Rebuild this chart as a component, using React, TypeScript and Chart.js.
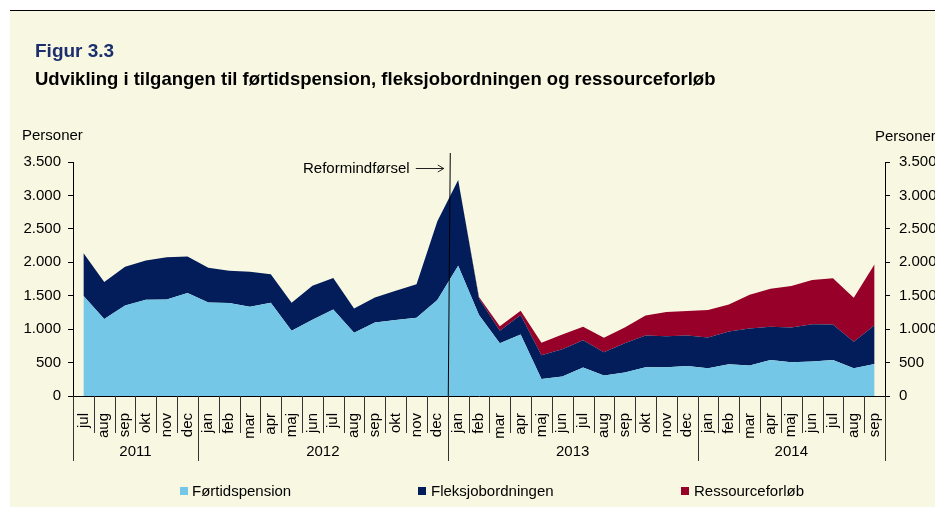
import React, { useEffect, useRef } from 'react';
import { Chart, registerables } from 'chart.js';

Chart.register(...registerables);

const FONT = '"Liberation Sans", Arial, Helvetica, sans-serif';

// Categories
const months = [
  'jul', 'aug', 'sep', 'okt', 'nov', 'dec',
  'jan', 'feb', 'mar', 'apr', 'maj', 'jun', 'jul', 'aug', 'sep', 'okt', 'nov', 'dec',
  'jan', 'feb', 'mar', 'apr', 'maj', 'jun', 'jul', 'aug', 'sep', 'okt', 'nov', 'dec',
  'jan', 'feb', 'mar', 'apr', 'maj', 'jun', 'jul', 'aug', 'sep',
];
const years = ['2011', '2012', '2013', '2014'];
const yearSpans = [6, 12, 12, 9];

// Series (persons per month)
const fortidspension = [
  1500, 1150, 1355, 1440, 1445, 1540,
  1400, 1390, 1335, 1395, 975, 1140, 1295, 945, 1100, 1135, 1170, 1435,
  1950, 1210, 790, 920, 255, 290, 425, 305, 350, 430, 430, 450,
  415, 475, 455, 540, 505, 515, 540, 415, 480,
];
const fleksjob = [
  640, 555, 580, 585, 630, 545,
  520, 485, 525, 425, 420, 510, 470, 365, 375, 440, 500, 1180,
  1280, 250, 185, 290, 355, 410, 410, 350, 440, 475, 465, 455,
  460, 490, 555, 495, 520, 560, 530, 395, 580,
];
const ressourceforloeb: (number | null)[] = [
  null, null, null, null, null, null,
  null, null, null, null, null, null, null, null, null, null, null, null,
  0, 20, 70, 65, 185, 220, 200, 215, 235, 300, 360, 365,
  410, 405, 505, 570, 620, 660, 690, 660, 910,
];

const yMax = 3500;
const yStep = 500;
const reformIndex = 18;

const COLORS = {
  fortid: '#74C7E6',
  fleks: '#031D5B',
  ressource: '#970029',
  cream: '#F8F8E2',
  title: '#1C2F6D',
};

const fmt = (v: number) => {
  if (v >= 1000) {
    const t = Math.floor(v / 1000);
    const r = v % 1000;
    return `${t}.${String(r).padStart(3, '0')}`;
  }
  return String(v);
};

const decorPlugin = {
  id: 'decor',
  afterDraw(chart: any) {
    const { ctx, chartArea, scales } = chart;
    const x = scales.x;
    const n = months.length;
    const p0 = x.getPixelForValue(0);
    const p1 = x.getPixelForValue(1);
    const half = (p1 - p0) / 2;
    const step = p1 - p0;
    const bottom = chartArea.bottom;

    const yearBounds = new Set<number>();
    let acc = 0;
    yearBounds.add(0);
    yearSpans.forEach((s) => {
      acc += s;
      yearBounds.add(acc);
    });

    ctx.save();
    ctx.strokeStyle = '#333';
    ctx.lineWidth = 1;
    for (let i = 0; i <= n; i++) {
      const px = Math.round(p0 - half + i * step) + 0.5;
      const len = yearBounds.has(i) ? 65 : 37;
      ctx.beginPath();
      ctx.moveTo(px, bottom);
      ctx.lineTo(px, bottom + len);
      ctx.stroke();
    }

    // year labels
    ctx.fillStyle = '#000';
    ctx.font = `15px ${FONT}`;
    ctx.textAlign = 'center';
    ctx.textBaseline = 'middle';
    let start = 0;
    years.forEach((y, k) => {
      const end = start + yearSpans[k];
      const cx = p0 - half + ((start + end) / 2) * step;
      ctx.fillText(y, cx, bottom + 56);
      start = end;
    });

    // reform line
    const bx = p0 - half + reformIndex * step;
    ctx.strokeStyle = '#000';
    ctx.beginPath();
    ctx.moveTo(bx + 2.5, chartArea.top - 9);
    ctx.lineTo(bx + 0.5, bottom);
    ctx.stroke();

    // arrow
    const ay = chartArea.top + 6.5;
    ctx.strokeStyle = '#222';
    ctx.beginPath();
    ctx.moveTo(bx - 32, ay);
    ctx.lineTo(bx - 4, ay);
    ctx.moveTo(bx - 10, ay - 3.5);
    ctx.lineTo(bx - 4, ay);
    ctx.lineTo(bx - 10, ay + 3.5);
    ctx.stroke();
    ctx.restore();
  },
};

export default function App() {
  const ref = useRef<HTMLCanvasElement | null>(null);

  useEffect(() => {
    if (!ref.current) return;
    Chart.defaults.font.family = FONT;
    const yTickCommon = {
      min: 0,
      max: yMax,
      ticks: {
        stepSize: yStep,
        color: '#000',
        font: { size: 15 },
        callback: (v: any) => fmt(Number(v)),
      },
      grid: { drawOnChartArea: false, drawTicks: true, tickLength: 5, color: '#000' },
      border: { color: '#000', width: 1 },
    };
    const chart = new Chart(ref.current, {
      type: 'line',
      data: {
        labels: months,
        datasets: [
          {
            label: 'Førtidspension',
            data: fortidspension,
            backgroundColor: COLORS.fortid,
            borderWidth: 0,
            fill: 'origin',
            pointRadius: 0,
            tension: 0,
          },
          {
            label: 'Fleksjobordningen',
            data: fleksjob,
            backgroundColor: COLORS.fleks,
            borderWidth: 0,
            fill: '-1',
            pointRadius: 0,
            tension: 0,
          },
          {
            label: 'Ressourceforløb',
            data: ressourceforloeb,
            backgroundColor: COLORS.ressource,
            borderWidth: 0,
            fill: '-1',
            pointRadius: 0,
            tension: 0,
          },
        ],
      },
      options: {
        animation: false,
        responsive: false,
        devicePixelRatio: 1,
        layout: { padding: { top: 162, left: 0, right: 0, bottom: 0 } },
        plugins: {
          legend: { display: false },
          tooltip: { enabled: false },
          title: { display: false },
        },
        scales: {
          x: {
            type: 'category',
            offset: true,
            grid: { display: false },
            border: { color: '#000', width: 1 },
            ticks: {
              autoSkip: false,
              maxRotation: 90,
              minRotation: 90,
              color: '#000',
              font: { size: 15 },
              padding: 9,
            },
            afterFit: (s: any) => {
              s.height = 112;
            },
          },
          y: {
            ...yTickCommon,
            position: 'left',
            stacked: true,
            ticks: { ...yTickCommon.ticks, padding: 7 },
            afterFit: (s: any) => {
              s.width = 73;
            },
          },
          y2: {
            ...yTickCommon,
            position: 'right',
            display: true,
            ticks: { ...yTickCommon.ticks, padding: 9 },
            afterFit: (s: any) => {
              s.width = 50;
            },
          },
        },
      } as any,
      plugins: [decorPlugin],
    });
    return () => chart.destroy();
  }, []);

  const text15: React.CSSProperties = {
    position: 'absolute',
    fontSize: 15,
    lineHeight: '15px',
    color: '#000',
    whiteSpace: 'nowrap',
  };

  return (
    <div
      style={{
        position: 'fixed',
        left: 0,
        top: 0,
        width: 935,
        height: 508,
        background: '#fff',
        overflow: 'hidden',
        fontFamily: FONT,
      }}
    >
      <div style={{ position: 'absolute', left: 10, top: 10, width: 925, height: 1, background: '#000' }} />
      <div style={{ position: 'absolute', left: 10, top: 11, width: 925, height: 496, background: COLORS.cream }} />
      <canvas ref={ref} width={935} height={508} style={{ position: 'absolute', left: 0, top: 0, width: 935, height: 508 }} />
      <div
        style={{
          position: 'absolute',
          left: 35,
          top: 41,
          fontSize: 19,
          lineHeight: '19px',
          fontWeight: 'bold',
          color: COLORS.title,
          whiteSpace: 'nowrap',
        }}
      >
        Figur 3.3
      </div>
      <div
        style={{
          position: 'absolute',
          left: 35,
          top: 70,
          fontSize: 18.5,
          lineHeight: '18.5px',
          fontWeight: 'bold',
          color: '#000',
          whiteSpace: 'nowrap',
        }}
      >
        Udvikling i tilgangen til førtidspension, fleksjobordningen og ressourceforløb
      </div>
      <div style={{ ...text15, left: 22, top: 127 }}>Personer</div>
      <div style={{ ...text15, left: 875, top: 128 }}>Personer</div>
      <div style={{ ...text15, left: 303, top: 160 }}>Reformindførsel</div>

      <div style={{ position: 'absolute', left: 180, top: 487, width: 8, height: 8, background: COLORS.fortid }} />
      <div style={{ ...text15, left: 192, top: 483 }}>Førtidspension</div>
      <div style={{ position: 'absolute', left: 418, top: 487, width: 8, height: 8, background: COLORS.fleks }} />
      <div style={{ ...text15, left: 431, top: 483 }}>Fleksjobordningen</div>
      <div style={{ position: 'absolute', left: 681, top: 487, width: 8, height: 8, background: COLORS.ressource }} />
      <div style={{ ...text15, left: 694, top: 483 }}>Ressourceforløb</div>
    </div>
  );
}
